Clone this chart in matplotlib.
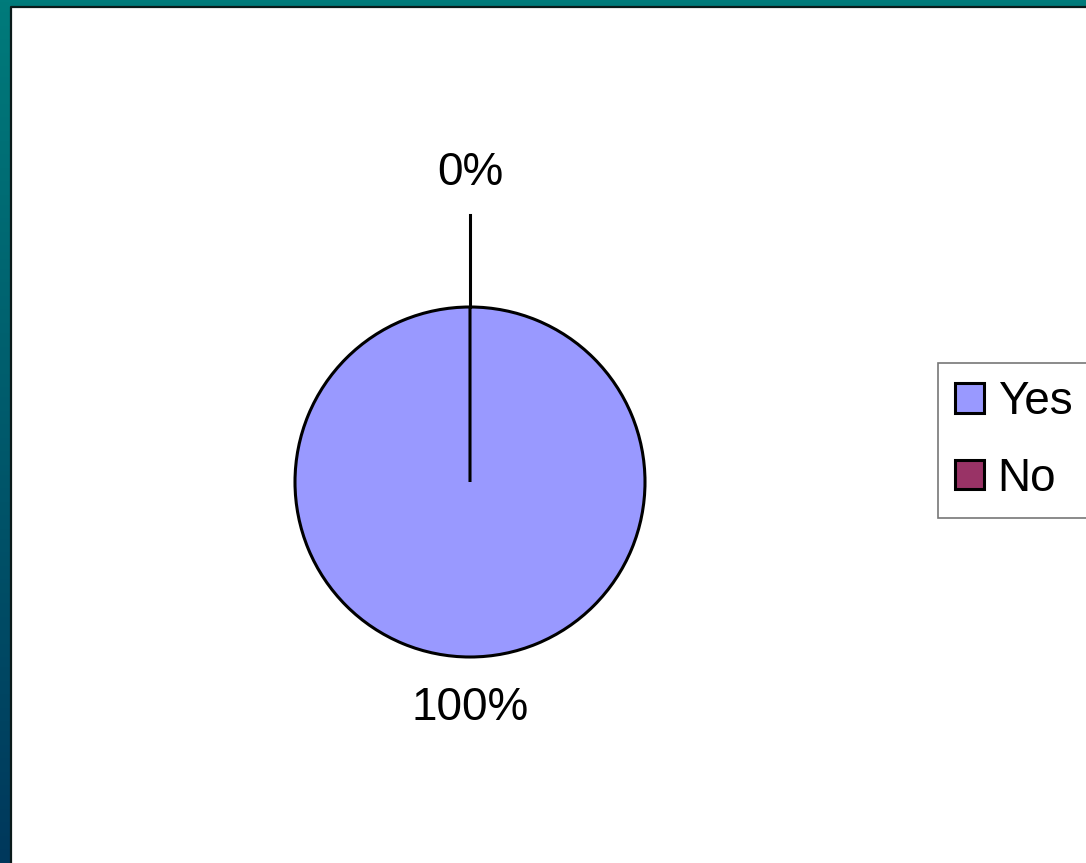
import numpy as np
import matplotlib.pyplot as plt
from matplotlib.patches import Rectangle

labels = ['Yes', 'No']
values = [100, 0]
colors = ['#9999FF', '#993366']

W, H = 1086, 863
fig = plt.figure(figsize=(W / 100, H / 100), dpi=100)
plt.rcParams['font.family'] = ['Liberation Sans', 'DejaVu Sans']

# slide background: teal to dark blue, white panel on top
bg = fig.add_axes([0, 0, 1, 1])
grad = np.linspace(0, 1, 256).reshape(-1, 1)
top = np.array([0, 123, 123]) / 255
bot = np.array([0, 56, 92]) / 255
img = top + (bot - top) * grad[:, :, None]
bg.imshow(img, aspect='auto', extent=[0, 1, 0, 1])
bg.set_xlim(0, 1)
bg.set_ylim(0, 1)
bg.axis('off')
x0 = 11 / W
y1 = 1 - 7 / H
bg.add_patch(Rectangle((x0, 0), 1 - x0, y1, facecolor='white', edgecolor='none'))
bg.plot([x0, x0, 1], [0, y1, y1], color='#0a1a1a', lw=1.6)

# pie axes: radius 1 -> 175 px, centre at (470, 482)
R = 175
cx, cy = 470, H - 482
half = 360
ax = fig.add_axes([(cx - half) / W, (cy - half) / H, 2 * half / W, 2 * half / H])
wedges, _ = ax.pie(values, colors=colors, startangle=90, counterclock=False,
                   wedgeprops=dict(edgecolor='black', linewidth=2.2))
ax.set_xlim(-half / R, half / R)
ax.set_ylim(-half / R, half / R)
ax.set_aspect('equal')
ax.axis('off')

# percentage labels
total = sum(values)
start = 90
for v, w in zip(values, wedges):
    span = 360 * v / total
    mid = np.deg2rad(start - span / 2)
    start -= span
    pct = '%d%%' % round(100 * v / total)
    if v == 0:
        ax.plot([np.cos(mid), 1.526 * np.cos(mid)], [np.sin(mid), 1.526 * np.sin(mid)],
                color='black', lw=2.2)
        r = 1.766
    else:
        r = 1.29
    ax.text(r * np.cos(mid), r * np.sin(mid), pct, ha='center', va='center', fontsize=33)

leg = fig.legend(wedges, labels, loc='upper left', bbox_to_anchor=(938 / W, 1 - 363 / H),
                 borderaxespad=0, fontsize=33, handlelength=0.62, handleheight=0.62,
                 handletextpad=0.3, borderpad=0.38, labelspacing=0.7,
                 fancybox=False, framealpha=1)
leg.get_frame().set_edgecolor('#777777')
leg.get_frame().set_linewidth(1.2)

fig.savefig('out.png', dpi=100)
